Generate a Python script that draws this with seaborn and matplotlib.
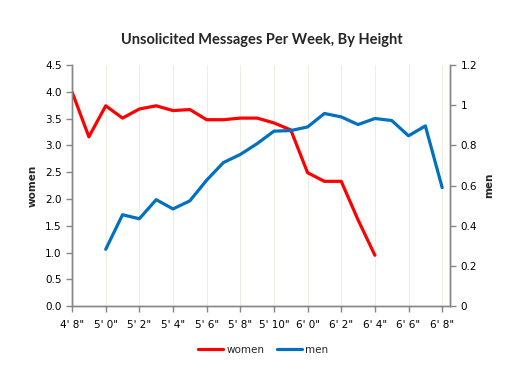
import numpy as np
import pandas as pd
import matplotlib.pyplot as plt
import seaborn as sns

# height buckets (one per category on the x axis)
heights = ["4' 8\"", "4' 10\"", "5' 0\"", "5' 1\"", "5' 2\"", "5' 3\"", "5' 4\"", "5' 5\"",
           "5' 6\"", "5' 7\"", "5' 8\"", "5' 9\"", "5' 10\"", "5' 11\"", "6' 0\"", "6' 1\"",
           "6' 2\"", "6' 3\"", "6' 4\"", "6' 5\"", "6' 6\"", "6' 7\"", "6' 8\""]
women = [4.0, 3.16, 3.74, 3.51, 3.68, 3.74, 3.65, 3.67, 3.48, 3.48, 3.51, 3.51,
         3.42, 3.29, 2.49, 2.33, 2.33, 1.61, 0.95, None, None, None, None]
men = [None, None, 0.283, 0.455, 0.435, 0.530, 0.484, 0.524, 0.627, 0.715, 0.755, 0.809,
       0.871, 0.874, 0.892, 0.959, 0.942, 0.904, 0.934, 0.924, 0.848, 0.897, 0.590]

df = pd.DataFrame({"pos": np.arange(len(heights)), "height": heights,
                   "women": pd.to_numeric(women), "men": pd.to_numeric(men)})

sns.set_style("white")
plt.rcParams['font.family'] = ['DejaVu Sans']
axis_grey = "#868686"

fig = plt.figure(figsize=(5.26, 3.92), dpi=100)
ax = fig.add_axes([0.137, 0.219, 0.719, 0.615])
ax2 = ax.twinx()

sns.lineplot(data=df, x="pos", y="women", ax=ax, color="#FF0000", linewidth=2.3, label="women", legend=False)
sns.lineplot(data=df, x="pos", y="men", ax=ax2, color="#0070C0", linewidth=2.3, label="men", legend=False)

ax.set_xlim(0, 22.48)
ax.set_ylim(0, 4.5)
ax2.set_ylim(0, 1.2)
ax.set_yticks(np.arange(0, 4.51, 0.5))
ax.set_yticklabels([f"{v:.1f}" for v in np.arange(0, 4.51, 0.5)])
ax2.set_yticks(np.arange(0, 1.21, 0.2))
ax2.set_yticklabels(["0", "0.2", "0.4", "0.6", "0.8", "1", "1.2"])

tick_pos = df["pos"][::2]
ax.set_xticks(tick_pos)
ax.set_xticklabels(df["height"][::2])
ax.xaxis.grid(True, color="#EDEDE3", linewidth=0.8)
ax.yaxis.grid(False)
ax2.grid(False)

for a in (ax, ax2):
    for s in a.spines.values():
        s.set_color(axis_grey)
        s.set_linewidth(1.0)
    a.spines["top"].set_visible(False)
    a.tick_params(colors=axis_grey, labelcolor="black", labelsize=7.5, length=4, width=1)
    a.set_xlabel("")
ax.tick_params(axis="y", left=True, labelleft=True)
ax.tick_params(axis="x", bottom=True, pad=6)
ax2.tick_params(axis="y", right=True)

ax.set_ylabel("women", fontsize=7.5, fontweight="bold", labelpad=5)
ax2.set_ylabel("men", fontsize=7.5, fontweight="bold", labelpad=5)

fig.text(0.497, 1 - 40 / 392, "Unsolicited Messages Per Week, By Height",
         ha="center", va="center", fontsize=10.5, fontweight="bold", family=["Lato", "DejaVu Sans"])

h1, l1 = ax.get_legend_handles_labels()
h2, l2 = ax2.get_legend_handles_labels()
fig.legend(h1 + h2, l1 + l2, loc="center", bbox_to_anchor=(0.5, 1 - 350 / 392), ncol=2,
           frameon=False, fontsize=7.5, handlelength=2.4, columnspacing=1.2, handletextpad=0.3)

fig.savefig("out.png", dpi=100)
